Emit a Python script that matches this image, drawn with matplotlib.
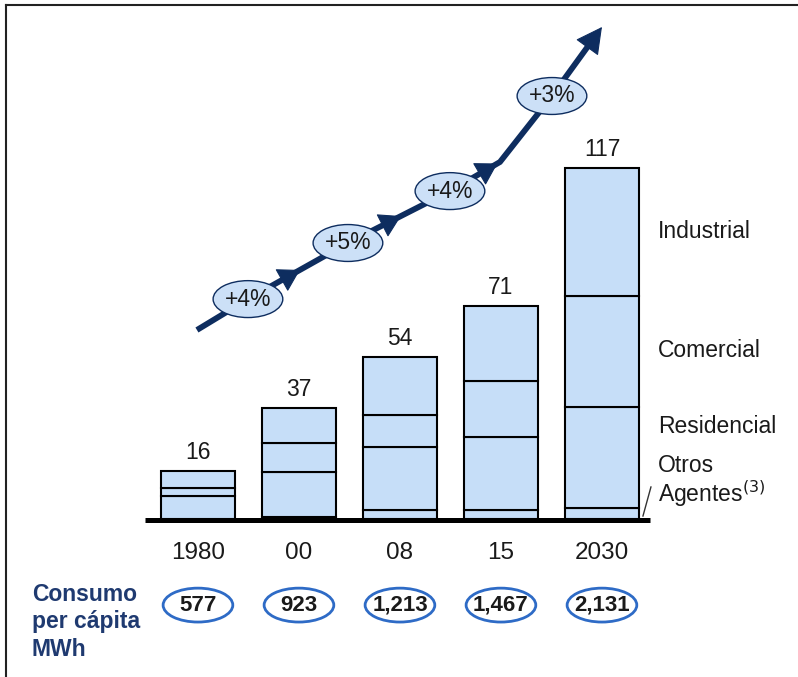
import matplotlib.pyplot as plt
from matplotlib.patches import Ellipse, FancyArrowPatch
from matplotlib.lines import Line2D

# -----------------------------
# Data
# -----------------------------
years = ["1980", "00", "08", "15", "2030"]
otros = [0.0, 0.5, 3.0, 3.0, 3.7]
residencial = [7.7, 15.3, 21.0, 24.3, 33.7]
comercial = [2.7, 9.4, 10.5, 18.7, 37.0]
industrial = [5.6, 11.8, 19.5, 25.0, 42.6]
totals = [16, 37, 54, 71, 117]

growth = ["+4%", "+5%", "+4%", "+3%"]
per_capita = ["577", "923", "1,213", "1,467", "2,131"]

segment_names = ["Industrial", "Comercial", "Residencial", "Otros", "Agentes$^{(3)}$"]

# -----------------------------
# Style
# -----------------------------
bar_color = "#C6DEF8"
navy = "#0E2D5F"
label_blue = "#1F3A70"
ring_blue = "#2E6BC6"
text_dark = "#1A1A1A"

plt.rcParams["font.family"] = ["Liberation Sans", "DejaVu Sans"]

fig = plt.figure(figsize=(7.98, 6.77), dpi=100)
ax = fig.add_axes([0, 0, 1, 1])
ax.set_xlim(-1.960, 5.941)
ax.set_ylim(-52.67, 173)
ax.axis("off")

x = list(range(len(years)))
width = 0.73

# -----------------------------
# Stacked bars
# -----------------------------
bottom = [0.0] * len(x)
for seg in [otros, residencial, comercial, industrial]:
    ax.bar(x, seg, width, bottom=bottom, color=bar_color,
           edgecolor="black", linewidth=1.5, zorder=2)
    bottom = [b + s for b, s in zip(bottom, seg)]

# baseline
ax.plot([-0.525, 4.475], [-0.4, -0.4], color="black", linewidth=3.6,
        solid_capstyle="butt", zorder=3)

for xi, t in zip(x, totals):
    ax.text(xi, t + 2.3, str(t), ha="center", va="bottom",
            fontsize=16.5, color=text_dark)

for xi, yr in zip(x, years):
    ax.text(xi, -11.3, yr, ha="center", va="center",
            fontsize=17.5, color=text_dark)

# segment labels on the right
label_y = [95.7, 56.0, 30.7, 17.7, 8.3]
for name, ly in zip(segment_names, label_y):
    ax.text(4.554, ly, name, ha="left", va="center", fontsize=16.5,
            color=text_dark)
ax.plot([4.406, 4.485], [0.99, 10.67], color="#333333", linewidth=1.0)

# -----------------------------
# Growth arrow
# -----------------------------
ell_pos = [(0.495, 73.3), (1.485, 92.0), (2.495, 109.3), (3.505, 141.0)]
start = (-0.01, 63.0)
bend = (2.99, 119.0)
tip = (4.0, 164.0)

path = [start, ell_pos[0], ell_pos[1], ell_pos[2], bend, ell_pos[3]]
lw_arrow = 4.2
ax.plot([p[0] for p in path], [p[1] for p in path], color=navy,
        linewidth=lw_arrow, solid_capstyle="butt", solid_joinstyle="miter",
        zorder=4)
stop = (ell_pos[3][0] + (tip[0] - ell_pos[3][0]) * 0.85,
        ell_pos[3][1] + (tip[1] - ell_pos[3][1]) * 0.85)
ax.plot([ell_pos[3][0], stop[0]], [ell_pos[3][1], stop[1]], color=navy,
        linewidth=lw_arrow, solid_capstyle="butt", zorder=4)


def head(p0, p1, frac, length=0.7, half=0.42):
    a = (p0[0] + (p1[0] - p0[0]) * (frac - 0.12),
         p0[1] + (p1[1] - p0[1]) * (frac - 0.12))
    b = (p0[0] + (p1[0] - p0[0]) * frac, p0[1] + (p1[1] - p0[1]) * frac)
    ax.add_patch(FancyArrowPatch(
        a, b, arrowstyle=f"-|>,head_length={length},head_width={half}",
        mutation_scale=20, color=navy, linewidth=0.8,
        shrinkA=0, shrinkB=0, zorder=4))


head(ell_pos[0], ell_pos[1], 0.52)
head(ell_pos[1], ell_pos[2], 0.52)
head(ell_pos[2], bend, 0.95)
head(ell_pos[3], tip, 1.0, length=0.85, half=0.45)

for (ex, ey), g in zip(ell_pos, growth):
    ax.add_patch(Ellipse((ex, ey), 0.69, 12.3, facecolor="#CCE0F7",
                         edgecolor=navy, linewidth=1.0, zorder=5))
    ax.text(ex, ey, g, ha="center", va="center", fontsize=16.5,
            color=text_dark, zorder=6)

# -----------------------------
# Per capita row
# -----------------------------
ax.text(-1.644, -34.3, "Consumo\nper cápita\nMWh", ha="left", va="center",
        fontsize=16.5, fontweight="bold", color=label_blue, linespacing=1.25)

for xi, v in zip(x, per_capita):
    ax.add_patch(Ellipse((xi, -28.7), 0.69, 11.3, facecolor="white",
                         edgecolor=ring_blue, linewidth=2.0, zorder=5))
    ax.text(xi, -28.7, v, ha="center", va="center", fontsize=16,
            fontweight="bold", color=text_dark, zorder=6)

# frame
fig.add_artist(Line2D([6 / 798, 1], [1 - 5 / 677, 1 - 5 / 677],
                      color="#222222", linewidth=1.5))
fig.add_artist(Line2D([6 / 798, 6 / 798], [0, 1 - 5 / 677],
                      color="#222222", linewidth=1.5))

plt.savefig("out.png", dpi=100)
